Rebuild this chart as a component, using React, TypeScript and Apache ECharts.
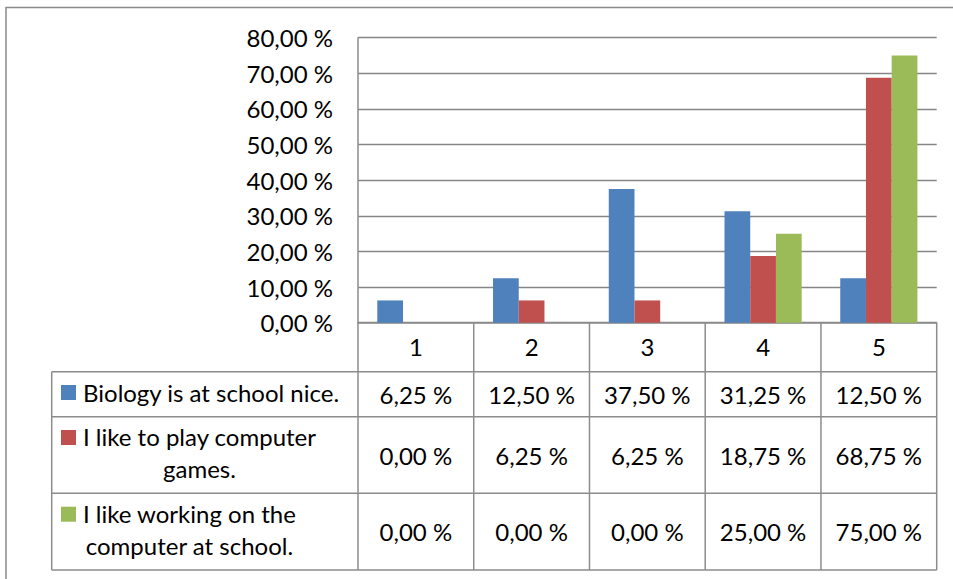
import React, { useEffect, useRef } from "react";
import * as echarts from "echarts";

// Answer categories on the 1–5 scale
const categories = ["1", "2", "3", "4", "5"];

// Share of answers per statement (percent)
const biologyNice = [6.25, 12.5, 37.5, 31.25, 12.5];
const playGames = [0, 6.25, 6.25, 18.75, 68.75];
const workComputer = [0, 0, 0, 25, 75];

const seriesNames = [
  "Biology is at school nice.",
  "I like to play computer games.",
  "I like working on the computer at school.",
];
// How each series name is wrapped inside the data table
const seriesNameLines = [
  ["Biology is at school nice."],
  ["I like to play computer", "games."],
  ["I like working on the", "computer at school."],
];
const seriesValues = [biologyNice, playGames, workComputer];
const seriesColors = ["#4F81BD", "#C0504D", "#9BBB59"];

const yMin = 0;
const yMax = 80;
const yStep = 10;

const W = 953;
const H = 579;
const FONT = "Lato, 'Open Sans', sans-serif";
const FS = 24;
const TEXT = "#000000";
const LINE = "#8c8c8c";

// Plot/table geometry
const plotLeft = 358;
const plotRight = 936.7;
const plotTop = 37.7;
const plotBottom = 322.7;
const tableLeft = 51.7;
const rowEdges = [plotBottom, 371.7, 416.7, 493.3, 570];

const fmt = (v: number) => v.toFixed(2).replace(".", ",") + " %";

function measure(text: string): number {
  const c = document.createElement("canvas").getContext("2d");
  if (!c) return text.length * FS * 0.5;
  c.font = `${FS}px ${FONT}`;
  return c.measureText(text).width;
}

export default function App() {
  const ref = useRef<HTMLDivElement>(null);

  useEffect(() => {
    if (!ref.current) return;
    const chart = echarts.init(ref.current, undefined, { renderer: "svg" });

    const colW = (plotRight - plotLeft) / categories.length;
    const graphics: any[] = [];

    // outer chart frame
    graphics.push({
      type: "rect",
      shape: { x: 6, y: 7.5, width: 980, height: 600 },
      style: { fill: "none", stroke: "#8a8a8a", lineWidth: 1.5 },
      silent: true,
    });

    // table horizontal lines
    rowEdges.slice(1).forEach((y) => {
      graphics.push({
        type: "line",
        shape: { x1: tableLeft, y1: y, x2: plotRight, y2: y },
        style: { stroke: LINE, lineWidth: 1.5 },
      });
    });
    // table vertical lines
    graphics.push({
      type: "line",
      shape: { x1: tableLeft, y1: rowEdges[1], x2: tableLeft, y2: rowEdges[4] },
      style: { stroke: LINE, lineWidth: 1.5 },
    });
    for (let i = 0; i <= categories.length; i++) {
      const x = plotLeft + i * colW;
      graphics.push({
        type: "line",
        shape: { x1: x, y1: plotBottom, x2: x, y2: rowEdges[4] },
        style: { stroke: LINE, lineWidth: 1.5 },
      });
    }

    // row headers: legend key + wrapped series name
    const keyTops = [385, 430, 506.7];
    const lineCenters = [[392], [436.5, 468], [513.5, 545]];
    const textLeft = 82.7;
    seriesNameLines.forEach((lines, r) => {
      graphics.push({
        type: "rect",
        shape: { x: 61, y: keyTops[r], width: 15, height: 15 },
        style: { fill: seriesColors[r] },
      });
      const w0 = measure(lines[0]);
      const cx = textLeft + w0 / 2;
      lines.forEach((ln, k) => {
        graphics.push({
          type: "text",
          x: cx,
          y: lineCenters[r][k],
          style: {
            text: ln,
            fill: TEXT,
            font: `${FS}px ${FONT}`,
            textAlign: "center",
            textVerticalAlign: "middle",
          },
        });
      });
    });

    // table values
    const valueCenters = [394, 455, 531.5];
    seriesValues.forEach((vals, r) => {
      vals.forEach((v, i) => {
        graphics.push({
          type: "text",
          x: plotLeft + (i + 0.5) * colW,
          y: valueCenters[r],
          style: {
            text: fmt(v),
            fill: TEXT,
            font: `${FS}px ${FONT}`,
            textAlign: "center",
            textVerticalAlign: "middle",
          },
        });
      });
    });

    chart.setOption({
      animation: false,
      backgroundColor: "#ffffff",
      grid: {
        left: plotLeft,
        right: W - plotRight,
        top: plotTop,
        bottom: H - plotBottom,
        containLabel: false,
      },
      xAxis: {
        type: "category",
        data: categories,
        axisLine: { show: true, lineStyle: { color: LINE, width: 1.5 } },
        axisTick: { show: false },
        axisLabel: {
          color: TEXT,
          fontFamily: FONT,
          fontSize: FS,
          margin: 24,
          verticalAlign: "middle",
        },
      },
      yAxis: {
        type: "value",
        min: yMin,
        max: yMax,
        interval: yStep,
        axisLine: { show: true, lineStyle: { color: LINE, width: 1.5 } },
        axisTick: { show: false },
        splitLine: { show: true, lineStyle: { color: "#868686", width: 1.3 } },
        axisLabel: {
          color: TEXT,
          fontFamily: FONT,
          fontSize: FS,
          margin: 25,
          formatter: (v: number) => fmt(v),
        },
      },
      series: seriesValues.map((vals, i) => ({
        type: "bar",
        name: seriesNames[i],
        data: vals,
        barGap: "0%",
        barCategoryGap: "33.33%",
        itemStyle: { color: seriesColors[i] },
      })),
      graphic: graphics,
    });

    return () => chart.dispose();
  }, []);

  return (
    <div
      ref={ref}
      style={{ position: "absolute", left: 0, top: 0, width: W, height: H }}
    />
  );
}
